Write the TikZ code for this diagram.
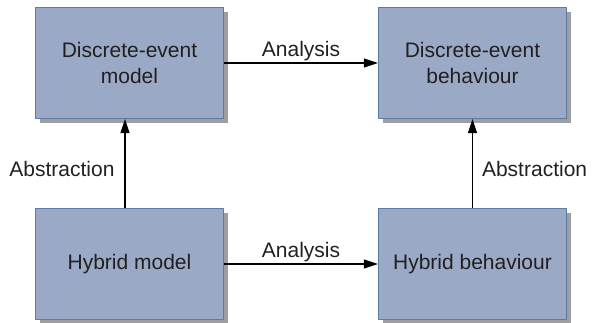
\documentclass[tikz,border=0pt]{standalone}
\usepackage{fontspec}
\setmainfont{Liberation Sans}
\usetikzlibrary{arrows.meta,shadows}
\definecolor{boxfill}{HTML}{9AAAC6}
\definecolor{boxline}{HTML}{5C7BA5}
\definecolor{txtgray}{HTML}{231F20}
\tikzset{
  blk/.style={draw=boxline, line width=1.3pt, fill=boxfill, text=txtgray,
    minimum width=188pt, minimum height=111pt, align=center,
    drop shadow={shadow xshift=4pt, shadow yshift=-4pt, fill=black!38, opacity=1}},
  lbl/.style={text=txtgray, inner sep=2pt}
}
\begin{document}
\begin{tikzpicture}[x=1pt, y=-1pt, font=\fontsize{21}{26}\selectfont, line join=round, >={Triangle[length=14pt,width=9pt]}]
	\def\xl{129.5} \def\xr{472.5}  % centres of the columns
	\def\yt{63} \def\yb{264}
	\useasboundingbox (0,0) rectangle (593,322);
	\node[blk] (dem) at (\xl,\yt) {Discrete-event\\model};
	\node[blk] (deb) at (\xr,\yt) {Discrete-event\\behaviour};
	\node[blk] (hm) at (\xl,\yb) {Hybrid model};
	\node[blk] (hb) at (\xr,\yb) {Hybrid behaviour};
	\draw[->, line width=1.1pt] (dem) -- node[lbl,above]{Analysis} (deb);
	\draw[->, line width=1.1pt] (hm) -- node[lbl,above]{Analysis} (hb);
	\draw[->, line width=1.1pt] ([xshift=-4.5pt]hm.north) -- node[lbl,left=8pt,yshift=-5pt]{Abstraction} ([xshift=-4.5pt]dem.south);
	\draw[->, line width=1.1pt] (hb) -- node[lbl,right=7pt,yshift=-5pt]{Abstraction} (deb);
\end{tikzpicture}
\end{document}
